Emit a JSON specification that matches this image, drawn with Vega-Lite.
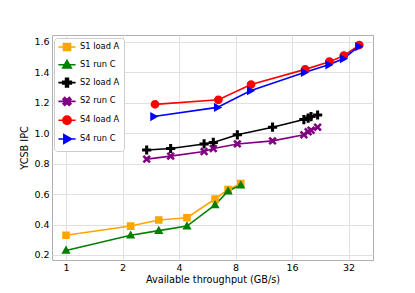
{
  "$schema": "https://vega.github.io/schema/vega-lite/v6.json",
  "width": 321,
  "height": 225,
  "autosize": "none",
  "padding": {"left": 52, "top": 35, "right": 42, "bottom": 33},
  "background": "white",
  "config": {
    "view": {"stroke": "#b0b0b0", "strokeWidth": 1},
    "axis": {
      "labelFont": "DejaVu Sans",
      "labelFontSize": 9.5,
      "labelColor": "#000000",
      "titleFont": "DejaVu Sans",
      "titleFontSize": 9.7,
      "titleFontWeight": "normal",
      "titleColor": "#000000",
      "domain": false,
      "ticks": false,
      "tickSize": 0,
      "gridColor": "#e0e0e0",
      "gridWidth": 1
    },
    "legend": {
      "labelFont": "DejaVu Sans",
      "labelFontSize": 8.3,
      "labelColor": "#000000",
      "title": null,
      "orient": "none",
      "legendX": 2,
      "legendY": 3,
      "padding": 4,
      "symbolOffset": 4,
      "symbolSize": 56,
      "symbolStrokeWidth": 1.6,
      "labelOffset": 8,
      "rowPadding": 2.8,
      "fillColor": "white",
      "strokeColor": "#cccccc",
      "cornerRadius": 3,
      "symbolOpacity": 1
    }
  },
  "data": {
    "values": [
      {"series": "S1 load A", "x": 1.0, "y": 0.33},
      {"series": "S1 load A", "x": 2.21, "y": 0.39},
      {"series": "S1 load A", "x": 3.12, "y": 0.43},
      {"series": "S1 load A", "x": 4.41, "y": 0.445},
      {"series": "S1 load A", "x": 6.22, "y": 0.568},
      {"series": "S1 load A", "x": 7.3, "y": 0.63},
      {"series": "S1 load A", "x": 8.53, "y": 0.669},
      {"series": "S1 run C", "x": 1.0, "y": 0.23},
      {"series": "S1 run C", "x": 2.21, "y": 0.33},
      {"series": "S1 run C", "x": 3.12, "y": 0.36},
      {"series": "S1 run C", "x": 4.41, "y": 0.39},
      {"series": "S1 run C", "x": 6.22, "y": 0.53},
      {"series": "S1 run C", "x": 7.3, "y": 0.62},
      {"series": "S1 run C", "x": 8.53, "y": 0.66},
      {"series": "S2 load A", "x": 2.69, "y": 0.89},
      {"series": "S2 load A", "x": 3.61, "y": 0.90},
      {"series": "S2 load A", "x": 5.44, "y": 0.93},
      {"series": "S2 load A", "x": 6.09, "y": 0.94},
      {"series": "S2 load A", "x": 8.18, "y": 0.99},
      {"series": "S2 load A", "x": 12.6, "y": 1.04},
      {"series": "S2 load A", "x": 18.5, "y": 1.09},
      {"series": "S2 load A", "x": 19.5, "y": 1.10},
      {"series": "S2 load A", "x": 20.2, "y": 1.11},
      {"series": "S2 load A", "x": 21.9, "y": 1.12},
      {"series": "S2 run C", "x": 2.69, "y": 0.83},
      {"series": "S2 run C", "x": 3.61, "y": 0.85},
      {"series": "S2 run C", "x": 5.44, "y": 0.88},
      {"series": "S2 run C", "x": 6.09, "y": 0.90},
      {"series": "S2 run C", "x": 8.18, "y": 0.93},
      {"series": "S2 run C", "x": 12.6, "y": 0.95},
      {"series": "S2 run C", "x": 18.5, "y": 0.99},
      {"series": "S2 run C", "x": 19.5, "y": 1.01},
      {"series": "S2 run C", "x": 20.2, "y": 1.02},
      {"series": "S2 run C", "x": 21.9, "y": 1.04},
      {"series": "S4 load A", "x": 2.98, "y": 1.19},
      {"series": "S4 load A", "x": 6.48, "y": 1.22},
      {"series": "S4 load A", "x": 9.68, "y": 1.32},
      {"series": "S4 load A", "x": 18.8, "y": 1.42},
      {"series": "S4 load A", "x": 25.3, "y": 1.47},
      {"series": "S4 load A", "x": 30.2, "y": 1.51},
      {"series": "S4 load A", "x": 36.5, "y": 1.58},
      {"series": "S4 run C", "x": 2.93, "y": 1.11},
      {"series": "S4 run C", "x": 6.40, "y": 1.17},
      {"series": "S4 run C", "x": 9.6, "y": 1.28},
      {"series": "S4 run C", "x": 18.6, "y": 1.40},
      {"series": "S4 run C", "x": 25.1, "y": 1.45},
      {"series": "S4 run C", "x": 30.0, "y": 1.49},
      {"series": "S4 run C", "x": 36.2, "y": 1.57}
    ]
  },
  "encoding": {
    "x": {
      "field": "x",
      "type": "quantitative",
      "title": "Available throughput (GB/s)",
      "scale": {"type": "log", "base": 2, "domain": [0.842, 43.2], "nice": false, "zero": false},
      "axis": {"values": [1, 2, 4, 8, 16, 32], "format": "d", "labelPadding": 2, "titlePadding": 3, "labelFlush": false}
    },
    "y": {
      "field": "y",
      "type": "quantitative",
      "title": "YCSB IPC",
      "scale": {"domain": [0.167, 1.646], "nice": false, "zero": false},
      "axis": {"values": [0.2, 0.4, 0.6, 0.8, 1.0, 1.2, 1.4, 1.6], "format": ".1f", "labelPadding": 3, "titlePadding": 4}
    }
  },
  "layer": [
    {
      "mark": {"type": "line", "strokeWidth": 1.6},
      "encoding": {
        "stroke": {
          "field": "series",
          "type": "nominal",
          "scale": {
            "domain": ["S1 load A", "S1 run C", "S2 load A", "S2 run C", "S4 load A", "S4 run C"],
            "range": ["#FFA500", "#008000", "#000000", "#800080", "#FF0000", "#0000FF"]
          }
        }
      }
    },
    {
      "mark": {"type": "point", "filled": true, "opacity": 1, "size": 64},
      "encoding": {
        "color": {
          "field": "series",
          "type": "nominal",
          "scale": {
            "domain": ["S1 load A", "S1 run C", "S2 load A", "S2 run C", "S4 load A", "S4 run C"],
            "range": ["#FFA500", "#008000", "#000000", "#800080", "#FF0000", "#0000FF"]
          }
        },
        "shape": {
          "field": "series",
          "type": "nominal",
          "scale": {
            "domain": ["S1 load A", "S1 run C", "S2 load A", "S2 run C", "S4 load A", "S4 run C"],
            "range": [
              "M-2.3,0H2.3M-0.95,-0.95H0.95V0.95H-0.95Z",
              "M-2.3,0H2.3M0,-1.2L1.15,0.85L-1.15,0.85Z",
              "M-2.3,0H2.3M-0.38,-1.15H0.38V-0.38H1.15V0.38H0.38V1.15H-0.38V0.38H-1.15V-0.38H-0.38Z",
              "M-2.3,0H2.3M-1.05,-0.6L-0.6,-1.05L0,-0.45L0.6,-1.05L1.05,-0.6L0.45,0L1.05,0.6L0.6,1.05L0,0.45L-0.6,1.05L-1.05,0.6L-0.45,0Z",
              "M-2.3,0H2.3M1.1,0A1.1,1.1,0,1,1,-1.1,0A1.1,1.1,0,1,1,1.1,0Z",
              "M-2.3,0H2.3M1.2,0L-0.85,-1.15L-0.85,1.15Z"
            ]
          }
        }
      }
    }
  ]
}
